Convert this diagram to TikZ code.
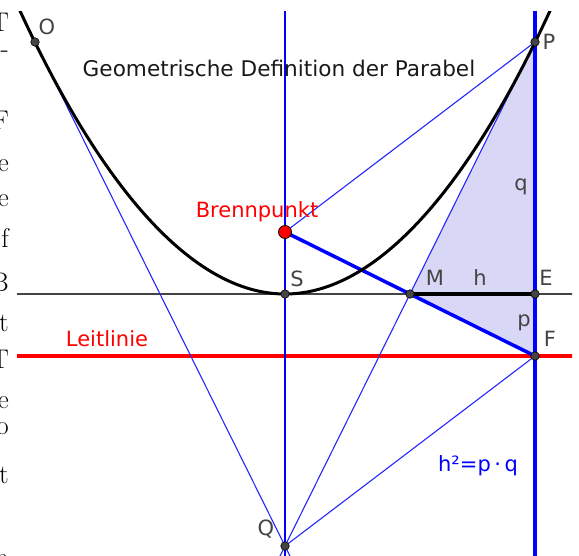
\documentclass[tikz,border=0pt]{standalone}
\usepackage{fontspec}
\newfontfamily\ggbfont{DejaVu Sans}
\usetikzlibrary{calc}
\definecolor{ink}{HTML}{444444}
\definecolor{tri}{HTML}{D8D8F6}

\begin{document}
\begin{tikzpicture}[
  x=1pt, y=-1pt,
  lbl/.style   ={font=\ggbfont\fontsize{21}{25}\selectfont, text=ink, inner sep=0pt, anchor=base},
  thinline/.style={blue!85, line width=1.1pt},
  thickline/.style={blue, line width=3.5pt},
  axisline/.style={blue, line width=2.4pt},
  horline/.style={ink, line width=2.2pt},
  dirline/.style={red, line width=3.5pt},
  parab/.style ={black, line width=3pt},
  pt/.style    ={circle, fill=ink, draw=black, line width=0.6pt, inner sep=0pt, minimum size=8.5pt},
  focus/.style ={circle, fill=red, draw=black, line width=0.8pt, inner sep=0pt, minimum size=13pt},
  frag/.style  ={font=\fontsize{27}{32}\selectfont, anchor=base east, inner sep=0pt}
]
\useasboundingbox (0,0) rectangle (579,556);

% points of the construction, in pixels with y downwards
\coordinate (S) at (285,294);
\coordinate (B) at (285,232);
\coordinate (M) at (410,294);
\coordinate (E) at (535,294);
\coordinate (F) at (535,356);
\coordinate (P) at (535,42);
\coordinate (O) at (35,42);
\coordinate (Q) at (285,546);
\coordinate (pl) at (15,0);
\coordinate (pr) at (555,0);

\begin{scope}
  \clip (17,12) rectangle (572,556);
  \fill[tri] (P) -- (M) -- (F) -- cycle;
  \draw[horline] ($(S)!-1.1!(E)$) -- ($(S)!1.5!(E)$);
  \draw[dirline] ($(F)+(-600,0)$) -- ($(F)+(100,0)$);
  \draw[axisline] ($(S)+(0,-300)$) -- ($(S)+(0,300)$);
  \draw[thinline] ($(P)!-0.2!(Q)$) -- ($(P)!1.2!(Q)$);
  \draw[thinline] ($(O)!-0.2!(Q)$) -- ($(O)!1.2!(Q)$);
  \draw[thinline] (B) -- (P);
  \draw[thinline] (Q) -- (F);
  \draw[thickline] ($(P)+(0,-50)$) -- ($(F)+(0,250)$);
  \draw[thickline] (B) -- (F);
  \draw[black, line width=4pt] (M) -- (E);
  \draw[parab] (pl) parabola bend (S) (pr);
\end{scope}

\foreach \p in {O,P,S,M,E,F,Q}
  \node[pt] (dot\p) at (\p) {};
\node[focus] (dotB) at (B) {};

\node[lbl] (lO) at (47,35)   {O};
\node[lbl] (lP) at (549,50)  {P};
\node[lbl] (lS) at (297,287) {S};
\node[lbl] (lM) at (435,286) {M};
\node[lbl] (lh) at (480,286) {h};
\node[lbl] (lE) at (546,286) {E};
\node[lbl] (lp) at (524,327) {p};
\node[lbl] (lF) at (550,347) {F};
\node[lbl] (lq) at (521,191) {q};
\node[lbl] (lQ) at (266,535) {Q};
\node[lbl, text=red] (brenn) at (257,218) {Brennpunkt};
\node[lbl, text=red] (leit)  at (107,347) {Leitlinie};
\node[lbl, text=black!90, font=\ggbfont\fontsize{21.6}{25}\selectfont] (title) at (279,77) {Geometrische Definition der Parabel};
\node[lbl, text=blue] (formel) at (478,471) {h²=p\,·\,q};

% cut-off ends of the text lines beside the figure
\node[frag] (f1)  at (9,32)  {T};
\node[frag] (f2)  at (9,58)  {-};
\node[frag] (f3)  at (9,130) {F};
\node[frag] (f4)  at (9,172) {e};
\node[frag] (f5)  at (9,207) {e};
\node[frag] (f6)  at (9,248) {f};
\node[frag] (f7)  at (9,292) {B};
\node[frag] (f8)  at (9,332) {t};
\node[frag] (f9)  at (9,369) {T};
\node[frag] (f10) at (9,408) {e};
\node[frag] (f11) at (9,435) {o};
\node[frag] (f12) at (9,483) {t};
\node[frag] (f13) at (9,566) {n};
\end{tikzpicture}
\end{document}
